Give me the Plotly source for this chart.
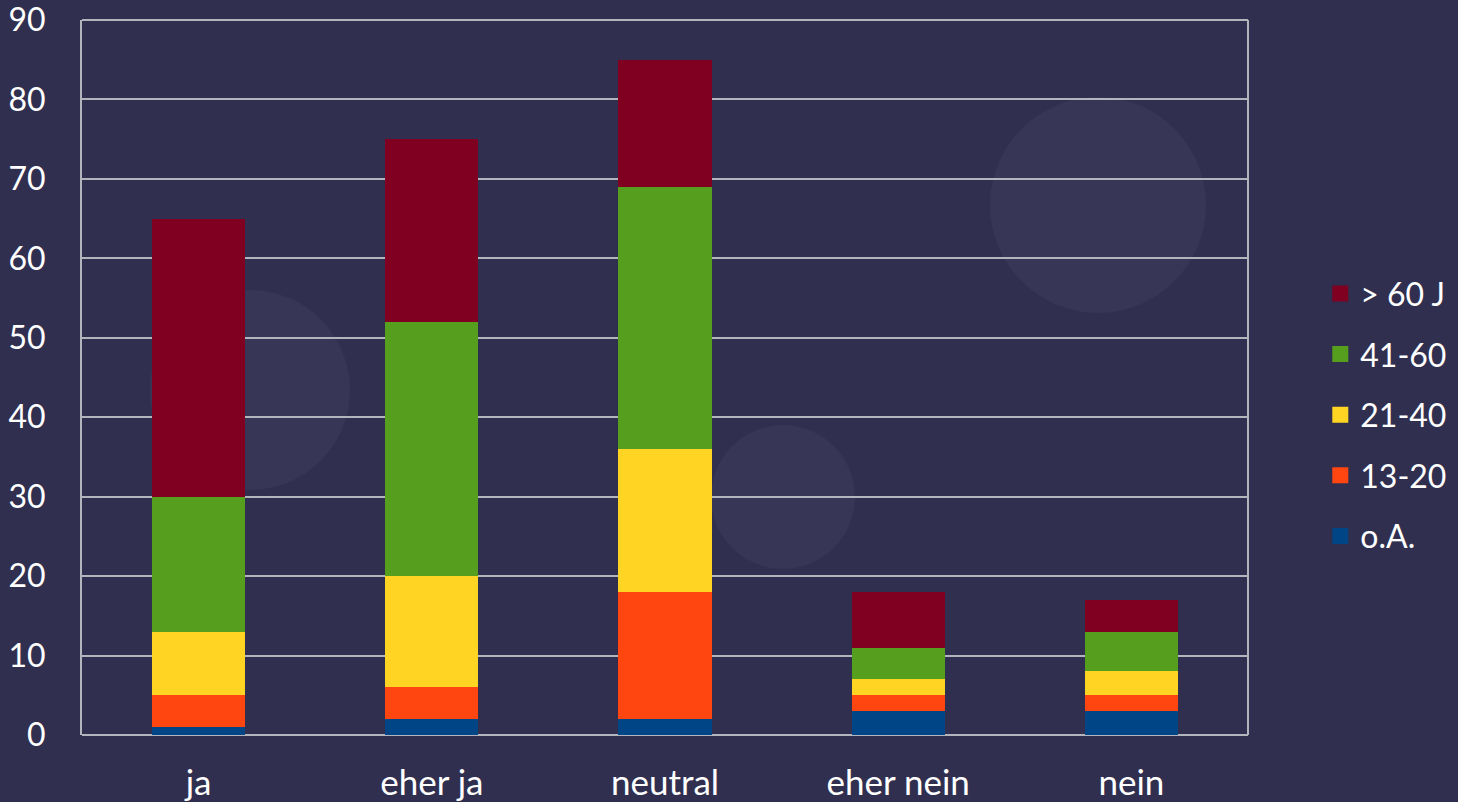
import plotly.graph_objects as go

categories = ["ja", "eher ja", "neutral", "eher nein", "nein"]
series_names = ["o.A.", "13-20", "21-40", "41-60", "> 60 J"]
oa = [1, 2, 2, 3, 3]
g13_20 = [4, 4, 16, 2, 2]
g21_40 = [8, 14, 18, 2, 3]
g41_60 = [17, 32, 33, 4, 5]
g60plus = [35, 23, 16, 7, 4]
colors = ["#004586", "#ff4510", "#ffd422", "#569e1e", "#7f0020"]
y_ticks = [0, 10, 20, 30, 40, 50, 60, 70, 80, 90]

W, H = 1458, 802
ML, MR, MT, MB = 82, 210, 20, 67
PW, PH = W - ML - MR, H - MT - MB

series_values = [oa, g13_20, g21_40, g41_60, g60plus]

fig = go.Figure()
for name, vals, col in zip(series_names, series_values, colors):
    fig.add_trace(go.Bar(x=categories, y=vals, name=name, marker=dict(color=col, line=dict(width=0)),
                         showlegend=False))
# legend entries (top to bottom: > 60 J ... o.A.) with larger square swatches
for name, col in reversed(list(zip(series_names, colors))):
    fig.add_trace(go.Scatter(x=[None], y=[None], mode="markers", name=name, legendgroup=name,
                             marker=dict(symbol="square", size=21, color=col, line=dict(width=0)),
                             hoverinfo="skip"))

# faint decorative background circles (pixel centre, radius)
circles = [(1098, 205, 108), (250, 390, 100), (783, 497, 72)]
for cx, cy, r in circles:
    fig.add_shape(type="circle", xref="paper", yref="paper", layer="below",
                  x0=(cx - r - ML) / PW, x1=(cx + r - ML) / PW,
                  y0=(H - MB - (cy + r)) / PH, y1=(H - MB - (cy - r)) / PH,
                  fillcolor="rgba(255,255,255,0.035)", line=dict(width=0))

font_family = "Lato, 'Open Sans', sans-serif"
fig.update_layout(
    barmode="stack",
    bargap=0.6,
    width=W, height=H,
    margin=dict(l=ML, r=MR, t=MT, b=MB, autoexpand=False),
    paper_bgcolor="#302f50",
    plot_bgcolor="rgba(0,0,0,0)",
    font=dict(family=font_family, size=34, color="white"),
    legend=dict(traceorder="grouped", x=1.062, xanchor="left", y=0.448, yanchor="middle",
                font=dict(size=32, color="white"), tracegroupgap=16, bgcolor="rgba(0,0,0,0)",
                itemsizing="trace", itemwidth=30),
    xaxis=dict(showgrid=False, showline=False, ticks="", tickfont=dict(size=35), automargin=False,
               ticklabelstandoff=24, ticklabeloverflow="allow"),
    yaxis=dict(range=[0, 90], tickvals=y_ticks, showgrid=True, gridcolor="#b4b4bc", gridwidth=2,
               showline=True, linecolor="#b4b4bc", linewidth=2, ticks="", zeroline=True,
               zerolinecolor="#b4b4bc", zerolinewidth=2, tickfont=dict(size=32), ticklabelstandoff=28,
               automargin=False, ticklabeloverflow="allow"),
)
fig.add_shape(type="line", xref="paper", yref="paper", x0=1, x1=1, y0=0, y1=1,
              line=dict(color="#b4b4bc", width=2))
fig.add_shape(type="line", xref="paper", yref="paper", x0=0, x1=1, y0=1, y1=1,
              line=dict(color="#b4b4bc", width=2))
fig.write_html("out.html", config={"displayModeBar": False},
               post_script="document.body.style.margin='0';document.body.style.background='#302f50';")
